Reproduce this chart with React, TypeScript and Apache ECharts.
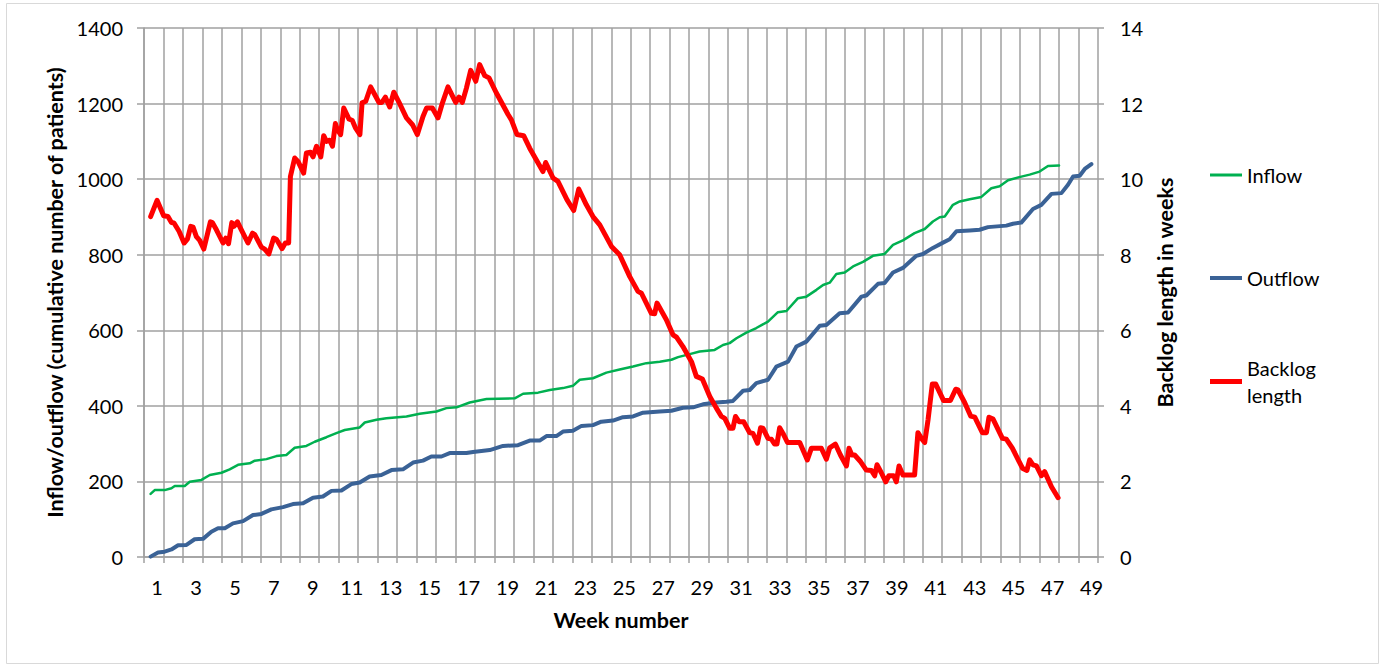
import React, { useEffect, useRef } from 'react';
import * as echarts from 'echarts';

const weekLabels = [1, 3, 5, 7, 9, 11, 13, 15, 17, 19, 21, 23, 25, 27, 29, 31, 33, 35, 37, 39, 41, 43, 45, 47, 49];

// [week, cumulative patients]
const inflowPoints = [
  [0.67, 167], [0.88, 177], [1.39, 177], [1.74, 182], [1.91, 188], [2.42, 188], [2.68, 199], [3.28, 204],
  [3.71, 217], [4.31, 223], [4.73, 232], [5.16, 244], [5.76, 248], [6.02, 255], [6.62, 259], [7.13, 267],
  [7.64, 270], [8.07, 289], [8.67, 294], [9.1, 305], [9.7, 317], [10.21, 328], [10.64, 336], [11.41, 343],
  [11.67, 356], [12.27, 363], [12.78, 367], [13.81, 372], [14.49, 379], [15.35, 385], [15.86, 394], [16.38, 396],
  [17.06, 409], [17.92, 418], [19.37, 420], [19.8, 432], [20.57, 435], [21.17, 442], [21.85, 447], [22.36, 453],
  [22.71, 469], [23.39, 473], [24.08, 488], [24.76, 496], [25.45, 504], [26.13, 513], [26.82, 517], [27.42, 522],
  [27.76, 529], [28.36, 537], [28.87, 544], [29.64, 548], [30.07, 561], [30.41, 566], [30.76, 579], [31.27, 594],
  [31.78, 606], [32.38, 623], [32.89, 648], [33.33, 651], [33.92, 685], [34.35, 689], [34.87, 707], [35.21, 720],
  [35.55, 726], [35.89, 749], [36.32, 753], [36.75, 769], [37.26, 781], [37.77, 797], [38.37, 802], [38.8, 826],
  [39.31, 838], [39.91, 857], [40.43, 868], [40.85, 888], [41.2, 899], [41.46, 901], [41.88, 932], [42.23, 941],
  [42.74, 947], [43.34, 953], [43.85, 976], [44.28, 981], [44.71, 997], [45.34, 1006], [45.82, 1012], [46.33, 1020],
  [46.76, 1035], [47.33, 1036]
];

const outflowPoints = [
  [0.67, 1], [1.05, 12], [1.39, 14], [1.74, 20], [2.08, 31], [2.51, 32], [2.93, 47], [3.36, 48], [3.79, 67],
  [4.13, 76], [4.48, 76], [4.9, 89], [5.42, 95], [5.93, 111], [6.36, 114], [6.87, 126], [7.47, 132], [7.98, 140],
  [8.5, 142], [9.01, 157], [9.52, 160], [9.96, 175], [10.47, 176], [10.98, 193], [11.41, 197], [11.92, 213],
  [12.52, 217], [13.04, 230], [13.63, 232], [14.15, 250], [14.66, 255], [15.09, 266], [15.61, 266], [16.03, 275],
  [16.89, 275], [17.23, 278], [18.09, 283], [18.77, 294], [19.54, 296], [20.14, 308], [20.65, 308], [21.0, 320],
  [21.51, 320], [21.85, 332], [22.36, 334], [22.8, 347], [23.39, 349], [23.82, 358], [24.42, 361], [24.93, 370],
  [25.45, 372], [25.96, 382], [26.82, 385], [27.42, 387], [28.01, 395], [28.53, 396], [29.04, 404], [29.73, 409],
  [30.24, 411], [30.58, 413], [31.1, 440], [31.44, 442], [31.78, 460], [32.38, 469], [32.81, 504], [33.41, 517],
  [33.84, 557], [34.35, 570], [35.04, 612], [35.38, 614], [36.06, 645], [36.49, 647], [37.18, 689], [37.43, 692],
  [38.03, 723], [38.37, 725], [38.8, 753], [39.31, 765], [40.0, 797], [40.34, 802], [40.85, 818], [41.37, 832],
  [41.71, 841], [42.06, 862], [42.74, 864], [43.25, 866], [43.68, 873], [44.62, 877], [44.96, 882], [45.39, 885],
  [45.99, 921], [46.42, 932], [46.94, 961], [47.45, 963], [47.79, 985], [48.05, 1007], [48.39, 1009], [48.65, 1027],
  [48.99, 1040]
];

// [week, backlog length in weeks]
const backlogPoints = [
  [0.67, 9.01], [1.0, 9.44], [1.34, 9.03], [1.56, 9.01], [1.74, 8.85], [1.87, 8.84], [2.13, 8.62], [2.39, 8.31],
  [2.56, 8.41], [2.73, 8.75], [2.85, 8.73], [3.02, 8.48], [3.19, 8.38], [3.4, 8.15], [3.74, 8.87], [3.84, 8.85],
  [4.05, 8.66], [4.39, 8.31], [4.53, 8.44], [4.67, 8.29], [4.84, 8.85], [4.95, 8.75], [5.13, 8.87], [5.33, 8.66],
  [5.67, 8.31], [5.9, 8.57], [6.02, 8.53], [6.36, 8.2], [6.53, 8.15], [6.74, 8.02], [6.99, 8.44], [7.13, 8.41],
  [7.42, 8.16], [7.59, 8.31], [7.76, 8.31], [7.85, 10.07], [8.07, 10.56], [8.24, 10.47], [8.53, 10.16], [8.67, 10.69],
  [8.88, 10.71], [9.01, 10.59], [9.19, 10.87], [9.41, 10.59], [9.56, 11.15], [9.7, 11.0], [9.87, 11.03], [10.01, 10.87],
  [10.16, 11.47], [10.26, 11.31], [10.43, 11.18], [10.59, 11.88], [10.86, 11.59], [11.03, 11.55], [11.2, 11.35],
  [11.42, 11.18], [11.53, 12.02], [11.72, 12.06], [11.97, 12.44], [12.18, 12.24], [12.4, 12.03], [12.55, 12.03],
  [12.73, 12.17], [12.95, 11.91], [13.16, 12.3], [13.43, 12.03], [13.81, 11.62], [14.12, 11.44], [14.37, 11.18],
  [14.66, 11.66], [14.84, 11.88], [15.14, 11.88], [15.43, 11.62], [15.66, 12.02], [15.94, 12.44], [16.34, 12.03],
  [16.51, 12.17], [16.68, 12.03], [16.89, 12.41], [17.11, 12.88], [17.37, 12.59], [17.57, 13.03], [17.83, 12.74],
  [18.05, 12.68], [18.43, 12.28], [19.03, 11.71], [19.2, 11.57], [19.49, 11.18], [19.83, 11.15], [20.14, 10.82],
  [20.82, 10.2], [20.96, 10.44], [21.34, 10.03], [21.59, 9.94], [22.06, 9.45], [22.4, 9.17], [22.66, 9.74],
  [23.05, 9.32], [23.39, 9.01], [23.74, 8.79], [24.34, 8.22], [24.76, 8.0], [25.28, 7.42], [25.7, 7.03],
  [25.88, 6.98], [26.39, 6.45], [26.56, 6.44], [26.68, 6.72], [27.16, 6.28], [27.5, 5.88], [27.68, 5.82],
  [28.01, 5.57], [28.45, 5.17], [28.7, 4.78], [29.01, 4.71], [29.39, 4.25], [29.73, 3.94], [29.99, 3.72],
  [30.16, 3.67], [30.41, 3.41], [30.58, 3.41], [30.71, 3.72], [30.89, 3.58], [31.13, 3.58], [31.44, 3.29],
  [31.61, 3.27], [31.84, 3.01], [32.0, 3.42], [32.12, 3.41], [32.38, 3.14], [32.55, 3.12], [32.72, 2.99],
  [32.84, 2.99], [32.98, 3.42], [33.15, 3.27], [33.38, 3.03], [34.01, 3.03], [34.4, 2.57], [34.61, 2.88],
  [35.12, 2.88], [35.38, 2.59], [35.55, 2.89], [35.84, 2.99], [36.1, 2.7], [36.41, 2.41], [36.54, 2.88],
  [36.69, 2.7], [36.83, 2.7], [37.14, 2.52], [37.43, 2.3], [37.69, 2.29], [37.86, 2.15], [37.98, 2.44],
  [38.2, 2.23], [38.43, 1.99], [38.59, 2.15], [38.84, 2.15], [38.97, 1.99], [39.11, 2.41], [39.31, 2.17],
  [39.91, 2.17], [40.08, 3.29], [40.29, 3.12], [40.43, 3.03], [40.6, 3.63], [40.82, 4.58], [40.99, 4.58],
  [41.4, 4.14], [41.75, 4.14], [42.02, 4.44], [42.14, 4.42], [42.48, 4.09], [42.79, 3.73], [43.0, 3.7],
  [43.39, 3.29], [43.6, 3.29], [43.73, 3.7], [43.94, 3.65], [44.42, 3.14], [44.62, 3.12], [44.93, 2.88],
  [45.45, 2.35], [45.68, 2.29], [45.82, 2.57], [45.99, 2.44], [46.17, 2.41], [46.42, 2.15], [46.59, 2.26],
  [46.94, 1.86], [47.28, 1.57]
];

const FONT = 'Lato';
const GRID = '#a0a0a0';
const GREEN = '#00B050';
const BLUE = '#3A6296';
const RED = '#FF0000';

export default function App() {
  const ref = useRef<HTMLDivElement>(null);

  useEffect(() => {
    if (!ref.current) return;
    const chart = echarts.init(ref.current, null, { renderer: 'svg' });
    const labelStyle = { fontSize: 20, color: '#000', fontFamily: FONT };
    const nameStyle = { fontSize: 21.5, color: '#000', fontFamily: FONT, fontWeight: 'bold' as const };
    const gridLine = { color: GRID, width: 1.5 };
    const plain = (v: number) => String(v);

    chart.setOption({
      animation: false,
      textStyle: { fontFamily: FONT, color: '#000' },
      grid: { left: 144, right: 288, top: 28, bottom: 111, containLabel: false },
      xAxis: [
        {
          type: 'value',
          min: 0.33,
          max: 49.33,
          position: 'bottom',
          axisLine: { show: false },
          axisTick: { show: false },
          splitLine: { show: false },
          axisLabel: { ...labelStyle, margin: 20, customValues: weekLabels, formatter: plain },
          name: 'Week number',
          nameLocation: 'middle',
          nameGap: 52,
          nameTextStyle: nameStyle
        },
        {
          type: 'value',
          min: 0,
          max: 49,
          interval: 1,
          position: 'bottom',
          axisLine: { show: true, lineStyle: gridLine },
          axisTick: { show: true, length: 6, lineStyle: gridLine },
          axisLabel: { show: false },
          splitLine: { show: true, lineStyle: gridLine }
        }
      ],
      yAxis: [
        {
          type: 'value',
          min: 0,
          max: 1400,
          interval: 200,
          position: 'left',
          axisLine: { show: true, lineStyle: gridLine },
          axisTick: { show: true, length: 7, lineStyle: gridLine },
          splitLine: { show: true, lineStyle: gridLine },
          axisLabel: { ...labelStyle, margin: 21, formatter: plain },
          name: 'Inflow/outflow (cumulative number of patients)',
          nameLocation: 'middle',
          nameRotate: 90,
          nameGap: 73,
          nameTextStyle: nameStyle
        },
        {
          type: 'value',
          min: 0,
          max: 14,
          interval: 2,
          position: 'right',
          axisLine: { show: false },
          axisTick: { show: true, length: 6, lineStyle: gridLine },
          splitLine: { show: false },
          axisLabel: { ...labelStyle, margin: 22, formatter: plain },
          name: 'Backlog length in weeks',
          nameLocation: 'middle',
          nameRotate: 90,
          nameGap: 53,
          nameTextStyle: nameStyle
        }
      ],
      legend: [
        {
          data: [{ name: 'Inflow', icon: 'rect', itemStyle: { color: GREEN } }],
          left: 1210, top: 163, padding: 0, itemWidth: 32, itemHeight: 3, selectedMode: false,
          textStyle: { ...labelStyle, lineHeight: 24 }
        },
        {
          data: [{ name: 'Outflow', icon: 'rect', itemStyle: { color: BLUE } }],
          left: 1210, top: 266, padding: 0, itemWidth: 32, itemHeight: 4, selectedMode: false,
          textStyle: { ...labelStyle, lineHeight: 24 }
        },
        {
          data: [{ name: 'Backlog length', icon: 'rect', itemStyle: { color: RED } }],
          left: 1210, top: 341, padding: 0, itemWidth: 32, itemHeight: 5, selectedMode: false,
          formatter: () => 'Backlog\nlength',
          textStyle: { ...labelStyle, lineHeight: 27, padding: [27, 0, 0, 0] }
        }
      ],
      series: [
        {
          name: 'Inflow', type: 'line', xAxisIndex: 0, yAxisIndex: 0, data: inflowPoints,
          symbol: 'none', showSymbol: false,
          lineStyle: { color: GREEN, width: 2.5, join: 'round', cap: 'round' }, itemStyle: { color: GREEN }
        },
        {
          name: 'Outflow', type: 'line', xAxisIndex: 0, yAxisIndex: 0, data: outflowPoints,
          symbol: 'none', showSymbol: false,
          lineStyle: { color: BLUE, width: 4, join: 'round', cap: 'round' }, itemStyle: { color: BLUE }
        },
        {
          name: 'Backlog length', type: 'line', xAxisIndex: 0, yAxisIndex: 1, data: backlogPoints,
          symbol: 'none', showSymbol: false,
          lineStyle: { color: RED, width: 5, join: 'round', cap: 'round' }, itemStyle: { color: RED }
        }
      ],
      graphic: [
        {
          type: 'rect', silent: true, z: -10,
          shape: { x: 6.5, y: 3.5, width: 1372, height: 660 },
          style: { fill: 'none', stroke: '#d9d9d9', lineWidth: 1 }
        }
      ]
    });

    return () => chart.dispose();
  }, []);

  return (
    <div
      ref={ref}
      style={{ position: 'absolute', left: 0, top: 0, width: 1386, height: 668, background: '#fff' }}
    />
  );
}
